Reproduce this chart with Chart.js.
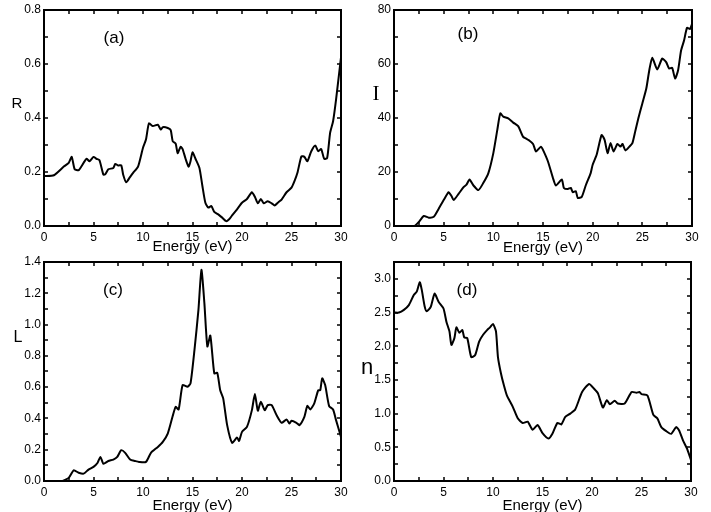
<!DOCTYPE html>
<html>
<head>
<meta charset="utf-8">
<script src="https://cdn.jsdelivr.net/npm/chart.js@4/dist/chart.umd.min.js"></script>
<style>
  body { margin: 0; background: #fff; }
  #wrap { position: relative; width: 711px; height: 512px; overflow: hidden; }
  #wrap canvas { position: absolute; }
</style>
</head>
<body>
<div id="wrap">
  <canvas id="chart-a" width="355" height="256" style="left:0;top:0"></canvas>
  <canvas id="chart-b" width="356" height="256" style="left:355px;top:0"></canvas>
  <canvas id="chart-c" width="355" height="256" style="left:0;top:256px"></canvas>
  <canvas id="chart-d" width="356" height="256" style="left:355px;top:256px"></canvas>
</div>
<script>
// (a) reflectivity R
const energyR = [0, 1, 2, 2.5, 2.8, 3.1, 3.5, 4, 4.3, 4.6, 5, 5.3, 5.6, 6, 6.2, 6.5, 7, 7.2, 7.5, 7.8,
  8, 8.3, 8.7, 9, 9.5, 10, 10.3, 10.6, 11, 11.5, 11.8, 12, 12.5, 12.8, 13, 13.3, 13.5, 13.8, 14, 14.3,
  14.6, 14.8, 15, 15.3, 15.7, 16, 16.3, 16.6, 16.9, 17.2, 17.6, 18, 18.4, 18.7, 19, 19.5, 20, 20.5, 21, 21.3,
  21.6, 21.9, 22.2, 22.6, 23, 23.3, 23.7, 24, 24.5, 25, 25.3, 25.6, 26, 26.3, 26.6, 27, 27.4, 27.7, 28, 28.3,
  28.6, 28.9, 29.2, 29.5, 30];
const reflectivity = [0.185, 0.188, 0.22, 0.234, 0.256, 0.21, 0.207, 0.234, 0.249, 0.24, 0.256, 0.249, 0.244, 0.19, 0.192, 0.21, 0.215, 0.23, 0.224, 0.225,
  0.19, 0.162, 0.182, 0.197, 0.22, 0.29, 0.32, 0.38, 0.37, 0.375, 0.357, 0.366, 0.363, 0.355, 0.314, 0.305, 0.27, 0.293, 0.285, 0.249,
  0.22, 0.24, 0.273, 0.249, 0.215, 0.148, 0.086, 0.068, 0.074, 0.052, 0.043, 0.031, 0.018, 0.025, 0.039, 0.062, 0.086, 0.10, 0.125, 0.108,
  0.084, 0.10, 0.084, 0.092, 0.084, 0.076, 0.089, 0.098, 0.125, 0.142, 0.166, 0.197, 0.258, 0.256, 0.24, 0.277, 0.298, 0.277, 0.285, 0.249,
  0.252, 0.345, 0.388, 0.468, 0.625];

// (b) absorption I
const energyI = [0, 2, 2.2, 2.5, 3, 3.5, 4, 4.5, 5, 5.5, 5.8, 6, 6.5, 7, 7.3, 7.6, 8, 8.5, 9, 9.5,
  10, 10.4, 10.7, 11, 11.5, 12, 12.5, 13, 13.3, 13.6, 14, 14.3, 14.8, 15, 15.5, 16, 16.3, 16.9, 17.1, 17.5,
  17.8, 18, 18.3, 18.5, 18.9, 19.3, 19.8, 20, 20.4, 20.9, 21.2, 21.5, 21.8, 22.1, 22.5, 22.8, 23, 23.3, 23.7, 24,
  24.3, 24.6, 25, 25.4, 25.7, 26, 26.5, 27, 27.4, 27.7, 28, 28.3, 28.6, 28.9, 29.2, 29.5, 29.8, 30];
const absorption = [0, 0, 0.4, 1.5, 3.7, 3.1, 3.4, 6.4, 9.6, 12.5, 11, 9.6, 11.9, 14.4, 15.3, 17.2, 15, 13.3, 16, 19.6,
  27, 35.6, 41.7, 40.5, 39.9, 38.3, 37, 33, 32.4, 31.7, 30.4, 27.6, 29.4, 28.2, 23.9, 17.8, 15, 17.2, 14.1, 13.7,
  14.1, 12.5, 12.9, 10.4, 10.8, 15, 19.6, 22.7, 26.4, 33.7, 31.9, 27, 30.7, 27.6, 30.4, 29.4, 30.4, 28, 29.4, 30.7,
  35.3, 39.9, 45.4, 50.9, 57.7, 62.3, 58, 62, 60.7, 58.3, 58.6, 54.6, 57.7, 65, 68.7, 73.4, 73, 74.8];

// (c) loss function L
const energyL = [0, 1.8, 2, 2.5, 3, 3.5, 4, 4.5, 5, 5.4, 5.7, 6, 6.5, 7, 7.4, 7.8, 8.2, 8.7, 9.2, 9.6,
  10.3, 10.8, 11.5, 12, 12.5, 13, 13.3, 13.6, 14, 14.5, 14.8, 15.2, 15.6, 15.9, 16.2, 16.5, 16.8, 17.2, 17.5, 17.8,
  18.1, 18.5, 19, 19.5, 19.7, 20, 20.5, 21, 21.3, 21.6, 21.9, 22.3, 22.6, 23, 23.5, 24, 24.5, 24.8, 25, 25.5,
  25.8, 26.3, 26.6, 26.9, 27.3, 27.7, 27.9, 28.1, 28.4, 28.8, 29.2, 29.5, 30];
const lossL = [0, 0, 0.004, 0.02, 0.068, 0.053, 0.047, 0.073, 0.09, 0.115, 0.154, 0.11, 0.128, 0.137, 0.154, 0.197, 0.18, 0.137, 0.128, 0.122,
  0.122, 0.18, 0.218, 0.25, 0.303, 0.415, 0.474, 0.457, 0.613, 0.603, 0.624, 0.838, 1.094, 1.35, 1.137, 0.86, 0.93, 0.688, 0.692, 0.58,
  0.528, 0.357, 0.244, 0.278, 0.256, 0.314, 0.346, 0.453, 0.556, 0.449, 0.506, 0.453, 0.485, 0.485, 0.42, 0.372, 0.393, 0.367, 0.385, 0.372,
  0.357, 0.41, 0.48, 0.457, 0.496, 0.58, 0.58, 0.656, 0.613, 0.479, 0.457, 0.389, 0.282];

// (d) refractive index n
const energyN = [0, 0.5, 1, 1.5, 2, 2.3, 2.6, 2.8, 3.1, 3.3, 3.7, 4.1, 4.5, 5, 5.3, 5.6, 5.8, 6.1, 6.3, 6.6,
  6.9, 7.1, 7.4, 7.8, 8.2, 8.6, 9, 9.4, 9.7, 10, 10.3, 10.5, 10.8, 11.1, 11.4, 12, 12.5, 13, 13.5, 14,
  14.5, 15, 15.6, 16, 16.5, 16.9, 17.3, 17.8, 18.3, 19, 19.7, 20.2, 20.6, 21.1, 21.5, 21.8, 22.3, 22.6, 23.3, 24,
  24.5, 24.8, 25, 25.6, 26.2, 26.6, 27, 27.5, 28, 28.5, 28.8, 29.2, 29.6, 30];
const indexN = [2.5, 2.5, 2.54, 2.61, 2.76, 2.81, 2.95, 2.84, 2.59, 2.52, 2.58, 2.78, 2.66, 2.56, 2.36, 2.22, 2.02, 2.12, 2.28, 2.2,
  2.24, 2.13, 2.12, 1.84, 1.87, 2.07, 2.17, 2.24, 2.28, 2.33, 2.22, 1.84, 1.6, 1.42, 1.27, 1.1, 0.93, 0.86, 0.88, 0.76,
  0.83, 0.71, 0.63, 0.70, 0.86, 0.84, 0.95, 1.0, 1.06, 1.32, 1.44, 1.37, 1.30, 1.09, 1.2, 1.14, 1.19, 1.15, 1.15, 1.32,
  1.31, 1.32, 1.29, 1.27, 0.98, 0.93, 0.8, 0.74, 0.70, 0.80, 0.75, 0.6, 0.48, 0.31];

Chart.defaults.font.family = "'Liberation Sans', Arial, sans-serif";
Chart.defaults.color = '#000';

function toPoints(xs, ys) {
    const n = Math.min(xs.length, ys.length);
    const pts = [];
    for (let i = 0; i < n; i++) pts.push({ x: xs[i], y: ys[i] });
    return pts;
}

// frame, inward ticks on all four sides, panel letter and y label
function framePlugin(cfg) {
    return {
        id: 'frame',
        afterDraw(chart) {
            const { ctx, chartArea: a, scales } = chart;
            const xs = scales.x, ys = scales.y;
            ctx.save();
            ctx.strokeStyle = '#000';
            ctx.lineWidth = 1.5;
            ctx.beginPath();
            const nx = Math.round((xs.max - xs.min) / cfg.xMinor);
            for (let i = 1; i < nx; i++) {
                const px = Math.round(xs.getPixelForValue(xs.min + i * cfg.xMinor));
                ctx.moveTo(px, a.bottom); ctx.lineTo(px, a.bottom - 4);
                ctx.moveTo(px, a.top); ctx.lineTo(px, a.top + 4);
            }
            const ny = Math.round((ys.max - ys.min) / cfg.yMinor);
            for (let i = 1; i < ny; i++) {
                const py = Math.round(ys.getPixelForValue(ys.min + i * cfg.yMinor));
                ctx.moveTo(a.left, py); ctx.lineTo(a.left + 4, py);
                ctx.moveTo(a.right, py); ctx.lineTo(a.right - 4, py);
            }
            ctx.stroke();
            ctx.lineWidth = 2;
            ctx.strokeRect(a.left, a.top, a.right - a.left, a.bottom - a.top);

            ctx.fillStyle = '#000';
            ctx.textAlign = 'center';
            ctx.textBaseline = 'alphabetic';
            ctx.font = "17px 'Liberation Sans', Arial, sans-serif";
            ctx.fillText(cfg.tag, cfg.tagX, cfg.tagY);
            ctx.font = cfg.yFont;
            ctx.fillText(cfg.yLabel, cfg.yLabelX, cfg.yLabelY);
            ctx.restore();
        }
    };
}

function makePanel(id, xs, ys, cfg) {
    return new Chart(document.getElementById(id), {
        type: 'line',
        data: {
            datasets: [{
                data: toPoints(xs, ys),
                borderColor: '#000',
                borderWidth: 2,
                pointRadius: 0,
                tension: 0.2,
                fill: false
            }]
        },
        options: {
            responsive: false,
            animation: false,
            layout: { padding: { top: cfg.padTop, right: cfg.padRight, left: 0, bottom: 0 } },
            plugins: { legend: { display: false }, tooltip: { enabled: false } },
            scales: {
                x: {
                    type: 'linear',
                    min: 0,
                    max: 30,
                    grid: { display: false, drawTicks: false },
                    border: { display: false },
                    ticks: { stepSize: 5, padding: 4, font: { size: 12 }, maxRotation: 0 },
                    title: {
                        display: true,
                        text: 'Energy (eV)',
                        font: { size: 15, lineHeight: 1 },
                        padding: { top: 0, bottom: cfg.titlePad }
                    },
                    afterFit(s) {
                        s.height = cfg.xHeight;
                        s.paddingLeft = s.paddingRight = s.paddingTop = s.paddingBottom = 0;
                    }
                },
                y: {
                    min: 0,
                    max: cfg.yMax,
                    grid: { display: false, drawTicks: false },
                    border: { display: false },
                    ticks: {
                        stepSize: cfg.yStep,
                        includeBounds: false,
                        padding: 3,
                        font: { size: 12 },
                        callback: v => v.toFixed(cfg.yDigits)
                    },
                    afterFit(s) {
                        s.width = cfg.yWidth;
                        s.paddingLeft = s.paddingRight = s.paddingTop = s.paddingBottom = 0;
                    }
                }
            }
        },
        plugins: [framePlugin(cfg)]
    });
}

makePanel('chart-a', energyR, reflectivity, {
    padTop: 10, padRight: 14, yWidth: 44, xHeight: 30, titlePad: 2,
    yMax: 0.8, yStep: 0.2, yMinor: 0.1, yDigits: 1, xMinor: 2.5,
    tag: '(a)', tagX: 114, tagY: 43,
    yLabel: 'R', yLabelX: 17, yLabelY: 108, yFont: "15px 'Liberation Sans', Arial, sans-serif"
});

makePanel('chart-b', energyI, absorption, {
    padTop: 10, padRight: 19, yWidth: 39, xHeight: 30, titlePad: 1,
    yMax: 80, yStep: 20, yMinor: 10, yDigits: 0, xMinor: 2.5,
    tag: '(b)', tagX: 113, tagY: 39,
    yLabel: 'I', yLabelX: 21, yLabelY: 100, yFont: "21px 'Liberation Serif', 'Times New Roman', serif"
});

makePanel('chart-c', energyL, lossL, {
    padTop: 6, padRight: 14, yWidth: 44, xHeight: 31, titlePad: -1,
    yMax: 1.4, yStep: 0.2, yMinor: 0.1, yDigits: 1, xMinor: 2.5,
    tag: '(c)', tagX: 113, tagY: 39,
    yLabel: 'L', yLabelX: 18, yLabelY: 86, yFont: "16px 'Liberation Sans', Arial, sans-serif"
});

makePanel('chart-d', energyN, indexN, {
    padTop: 6, padRight: 20, yWidth: 39, xHeight: 31, titlePad: -1,
    yMax: 3.25, yStep: 0.5, yMinor: 0.25, yDigits: 1, xMinor: 2.5,
    tag: '(d)', tagX: 112, tagY: 39,
    yLabel: 'n', yLabelX: 12, yLabelY: 118, yFont: "22px 'Liberation Sans', Arial, sans-serif"
});
</script>
</body>
</html>
